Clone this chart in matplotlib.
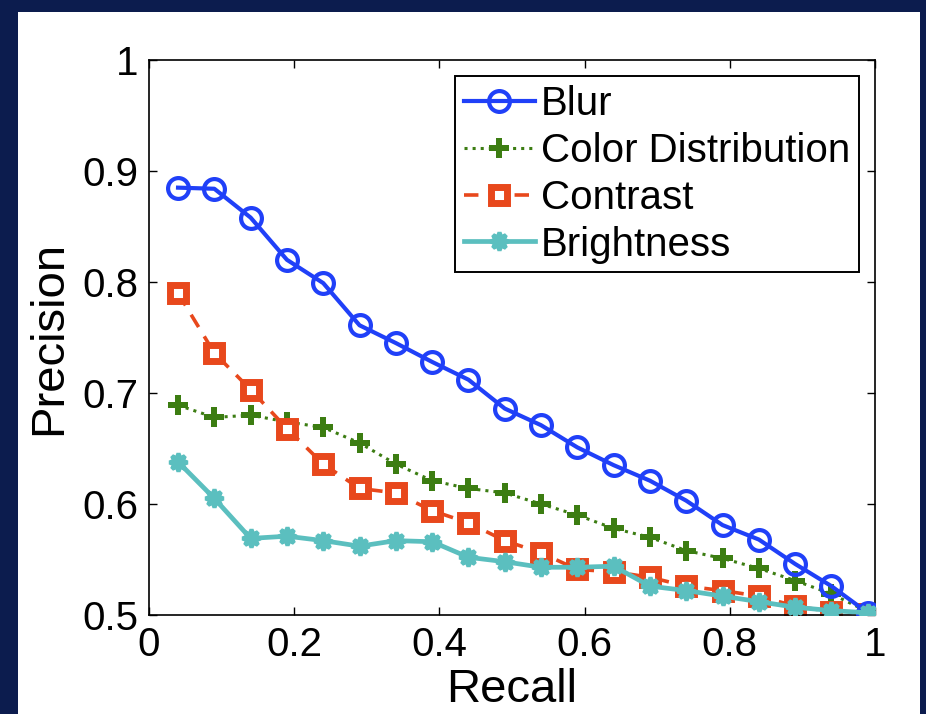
import matplotlib.pyplot as plt
from matplotlib.patches import Rectangle

plt.rcParams['font.family'] = ['Liberation Sans', 'DejaVu Sans']

# recall positions shared by all curves
recall = [0.04, 0.09, 0.14, 0.19, 0.24, 0.29, 0.34, 0.39, 0.44, 0.49,
          0.54, 0.59, 0.64, 0.69, 0.74, 0.79, 0.84, 0.89, 0.94, 0.99]

blur = [0.885, 0.884, 0.858, 0.820, 0.799, 0.761, 0.745, 0.728, 0.712, 0.686,
        0.671, 0.651, 0.635, 0.621, 0.603, 0.581, 0.568, 0.546, 0.526, 0.502]
color_dist = [0.689, 0.678, 0.680, 0.674, 0.669, 0.655, 0.636, 0.621, 0.614, 0.610,
              0.600, 0.590, 0.578, 0.570, 0.558, 0.551, 0.542, 0.531, 0.519, 0.503]
contrast = [0.790, 0.736, 0.703, 0.668, 0.636, 0.614, 0.610, 0.594, 0.583, 0.567,
            0.556, 0.541, 0.539, 0.534, 0.526, 0.522, 0.517, 0.508, 0.503, 0.501]
brightness = [0.638, 0.605, 0.569, 0.571, 0.567, 0.562, 0.567, 0.566, 0.552, 0.548,
              0.543, 0.543, 0.544, 0.526, 0.522, 0.517, 0.512, 0.507, 0.504, 0.502]

labels = ['Blur', 'Color Distribution', 'Contrast', 'Brightness']

fig = plt.figure(figsize=(9.26, 7.14), dpi=100)
fig.patch.set_facecolor('#0c1c4e')
# white slide panel
fig.patches.append(Rectangle((18 / 926, 0), (920 - 18) / 926, (714 - 12) / 714,
                             transform=fig.transFigure, facecolor='white',
                             edgecolor='none', zorder=-10))

ax = fig.add_axes([149 / 926, 1 - 615 / 714, (875 - 149) / 926, (615 - 60) / 714])
ax.set_zorder(5)

ax.plot(recall, blur, '-o', color='#2040f8', lw=3.0, ms=15, mfc='none', mew=3.0,
        label=labels[0], zorder=3)
ax.plot(recall, color_dist, ':P', color='#3c7d12', lw=2.2, ms=14, mew=0,
        label=labels[1], zorder=2)
ax.plot(recall, contrast, '--s', color='#e8481c', lw=2.6, ms=11, mfc='white', mew=5,
        label=labels[2], dashes=(4, 3), zorder=2)
ax.plot(recall, brightness, '-', color='#5bbfbf', lw=3.4, marker=(8, 1, 0), ms=13,
        mew=3, label=labels[3], zorder=4)

ax.set_xlim(0, 1)
ax.set_ylim(0.5, 1)
ax.set_xticks([0, 0.2, 0.4, 0.6, 0.8, 1])
ax.set_xticklabels(['0', '0.2', '0.4', '0.6', '0.8', '1'])
ax.set_yticks([0.5, 0.6, 0.7, 0.8, 0.9, 1])
ax.set_yticklabels(['0.5', '0.6', '0.7', '0.8', '0.9', '1'])
ax.tick_params(direction='in', length=6, width=1, top=True, right=True,
               labelsize=29, pad=8)
for s in ax.spines.values():
    s.set_linewidth(1.2)

ax.set_xlabel('Recall', fontsize=34, labelpad=3)
ax.set_ylabel('Precision', fontsize=34, labelpad=8)

leg = ax.legend(loc='upper right', fontsize=29, fancybox=False, edgecolor='black',
                framealpha=1, handlelength=1.75, handletextpad=0.15,
                labelspacing=0.22, borderpad=0.22, borderaxespad=0.4)
leg.get_frame().set_linewidth(1.4)

fig.savefig('out.png', dpi=100, facecolor=fig.get_facecolor())
